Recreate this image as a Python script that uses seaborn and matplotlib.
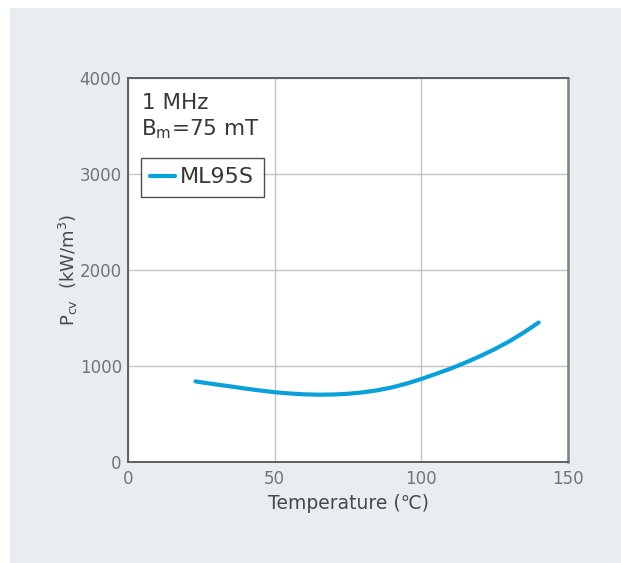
import matplotlib
matplotlib.use("Agg")
import matplotlib.pyplot as plt
import seaborn as sns
import pandas as pd
from matplotlib.patches import Rectangle

temperature = [23, 25, 30, 35, 40, 45, 50, 55, 60, 65, 70, 75, 80, 85, 90,
               95, 100, 105, 110, 115, 120, 125, 130, 135, 140]
pcv = [840, 830, 808, 787, 765, 745, 727, 714, 705, 701, 703, 711, 725, 747,
       777, 817, 865, 918, 973, 1035, 1102, 1175, 1257, 1350, 1453]
series_name = "ML95S"
x_ticks = [0, 50, 100, 150]
y_ticks = [0, 1000, 2000, 3000, 4000]

df = pd.DataFrame({"Temperature": temperature, "Pcv": pcv, "Material": series_name})

sns.set_style("white")
plt.rcParams["font.family"] = ["DejaVu Sans", "Noto Sans CJK JP"]
plt.rcParams["mathtext.fontset"] = "dejavusans"

fig = plt.figure(figsize=(6.21, 5.63), dpi=100)
fig.patch.set_facecolor("white")
W, H = 621, 563
bg = Rectangle((10 / W, 0), 1 - 10 / W, 1 - 8 / H,
               transform=fig.transFigure, facecolor="#e8edf1",
               edgecolor="none", zorder=-10)
fig.patches.append(bg)

ax = fig.add_axes([128 / W, 1 - 462 / H, 440 / W, 384 / H])
ax.set_zorder(5)
ax.set_facecolor("white")

sns.lineplot(data=df, x="Temperature", y="Pcv", hue="Material",
             palette=["#0aa0dc"], linewidth=3.0, ax=ax)

ax.set_xlim(0, 150)
ax.set_ylim(0, 4000)
ax.set_xticks(x_ticks)
ax.set_yticks(y_ticks)
ax.grid(True, color="#c4c4c4", linewidth=1.0)
ax.set_axisbelow(True)
for s in ax.spines.values():
    s.set_color("#555555")
    s.set_linewidth(1.3)
ax.spines["right"].set_color("#808080")
ax.spines["right"].set_linewidth(1.8)

ax.tick_params(axis="y", direction="out", length=3, width=1, color="#555555",
               labelsize=12, labelcolor="#747474", pad=1.5)
ax.tick_params(axis="x", direction="in", length=5, width=1, color="#555555",
               labelsize=12, labelcolor="#747474", pad=6)

ax.set_xlabel("Temperature (℃)", fontsize=13.5, color="#484848", labelpad=4)
ax.set_ylabel(r"P$_{\rm cv}$  (kW/m$^3$)", fontsize=13, color="#484848", labelpad=0)

ax.text(14 / 440, 1 - 31 / 384, "1 MHz", transform=ax.transAxes, fontsize=15.5,
        color="#383838", va="baseline", ha="left")
ax.text(13 / 440, 1 - 57 / 384, r"B$_{\rm m}$=75 mT", transform=ax.transAxes,
        fontsize=15.5, color="#383838", va="baseline", ha="left")

leg = ax.legend(loc="upper left", bbox_to_anchor=(13 / 440, 1 - 80 / 384),
                frameon=True, fancybox=False, edgecolor="#222222",
                fontsize=16, handlelength=1.1, handletextpad=0.25,
                borderpad=0.42, borderaxespad=0)
leg.get_frame().set_linewidth(1.0)
for t in leg.get_texts():
    t.set_color("#383838")

fig.savefig("out.png", dpi=100)
